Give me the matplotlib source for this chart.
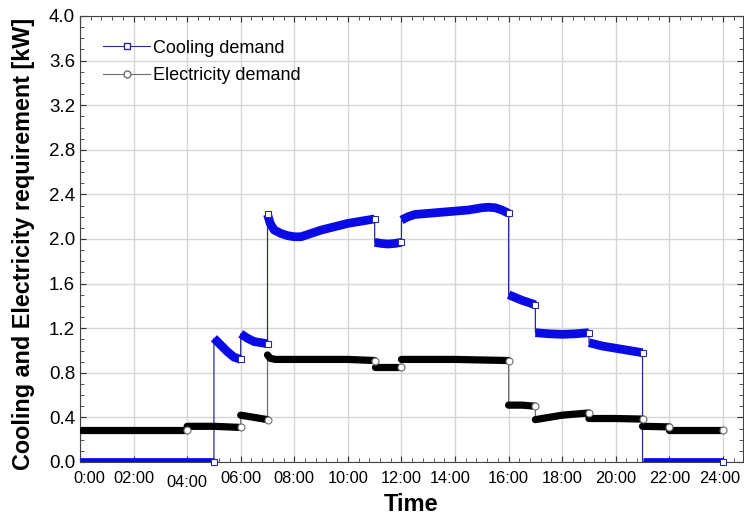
import matplotlib
matplotlib.use("Agg")
import matplotlib.pyplot as plt
from matplotlib.lines import Line2D
from matplotlib.ticker import MultipleLocator
from matplotlib.transforms import offset_copy

plt.rcParams['font.family'] = ['Liberation Sans', 'DejaVu Sans']

# cooling demand, one (hours, kW) pair per segment
cool_segments = [
    ([0.0, 5.0], [0.0, 0.0]),
    ([5.0, 5.25, 5.5, 5.75, 6.0], [1.11, 1.05, 0.99, 0.94, 0.92]),
    ([6.0, 6.25, 6.5, 6.75, 7.0], [1.15, 1.11, 1.08, 1.07, 1.06]),
    ([7.0, 7.1, 7.25, 7.5, 7.75, 8.0, 8.25, 8.5, 9.0, 9.5, 10.0, 10.5, 11.0],
     [2.22, 2.14, 2.08, 2.05, 2.03, 2.02, 2.02, 2.04, 2.08, 2.11, 2.14, 2.16, 2.18]),
    ([11.0, 11.25, 11.5, 11.75, 12.0], [1.97, 1.96, 1.955, 1.96, 1.97]),
    ([12.0, 12.25, 12.5, 13.0, 13.5, 14.0, 14.5, 15.0, 15.25, 15.5, 15.75, 16.0],
     [2.17, 2.20, 2.22, 2.23, 2.24, 2.25, 2.26, 2.28, 2.285, 2.28, 2.26, 2.23]),
    ([16.0, 16.5, 17.0], [1.50, 1.45, 1.41]),
    ([17.0, 17.5, 18.0, 18.5, 19.0], [1.16, 1.15, 1.145, 1.15, 1.16]),
    ([19.0, 19.5, 20.0, 20.5, 21.0], [1.07, 1.04, 1.02, 1.00, 0.98]),
    ([21.0, 24.0], [0.0, 0.0]),
]

# electricity demand
elec_segments = [
    ([0.0, 4.0], [0.29, 0.29]),
    ([4.0, 5.0, 6.0], [0.32, 0.32, 0.31]),
    ([6.0, 6.5, 7.0], [0.42, 0.40, 0.38]),
    ([7.0, 7.1, 7.3, 8.0, 9.0, 10.0, 11.0], [0.96, 0.93, 0.92, 0.92, 0.92, 0.92, 0.91]),
    ([11.0, 11.5, 12.0], [0.85, 0.85, 0.85]),
    ([12.0, 14.0, 16.0], [0.92, 0.92, 0.91]),
    ([16.0, 16.5, 17.0], [0.51, 0.51, 0.50]),
    ([17.0, 17.5, 18.0, 18.5, 19.0], [0.38, 0.40, 0.42, 0.43, 0.44]),
    ([19.0, 20.0, 21.0], [0.39, 0.39, 0.385]),
    ([21.0, 22.0], [0.32, 0.315]),
    ([22.0, 24.0], [0.29, 0.29]),
]

hour_ticks = list(range(0, 25, 2))
hour_labels = ['0:00', '02:00', '04:00', '06:00', '08:00', '10:00', '12:00',
               '14:00', '16:00', '18:00', '20:00', '22:00', '24:00']

cool_band = '#0a0ae6'
cool_thin = '#2b2b8f'
elec_band = '#000000'
elec_thin = '#6e6e6e'

fig = plt.figure(figsize=(7.44, 5.22), dpi=100)
ax = fig.add_axes([80 / 744, 60 / 522, 663 / 744, 446 / 522])


def draw_series(segments, band_color, thin_color, band_lw, marker, cap, extra_start=()):
    # thin connecting line through all segments (gives the vertical jumps)
    all_t = [t for seg in segments for t in seg[0]]
    all_v = [v for seg in segments for v in seg[1]]
    ax.plot(all_t, all_v, color=thin_color, lw=0.9, zorder=3)
    for i, (t, v) in enumerate(segments):
        ax.plot(t, v, color=band_color, lw=band_lw, solid_capstyle=cap, zorder=4)
        ax.plot(t[-1], v[-1], marker=marker, ms=5, mfc='white', mec=thin_color,
                mew=0.8, zorder=6, clip_on=False, ls='none')
        if i in extra_start:
            ax.plot(t[0], v[0], marker=marker, ms=5, mfc='white', mec=thin_color,
                    mew=0.8, zorder=6, ls='none')


draw_series(cool_segments, cool_band, cool_thin, 6.3, 's', 'butt', extra_start=(3,))
draw_series(elec_segments, elec_band, elec_thin, 5.2, 'o', 'round')

ax.set_xlim(0, 24.75)
ax.set_ylim(0, 4.0)
ax.set_xticks(hour_ticks)
ax.set_xticklabels(hour_labels)
ax.xaxis.set_minor_locator(MultipleLocator(0.4))
ax.yaxis.set_major_locator(MultipleLocator(0.4))
ax.yaxis.set_minor_locator(MultipleLocator(0.1))
ax.yaxis.set_major_formatter(matplotlib.ticker.FormatStrFormatter('%.1f'))

ax.grid(True, which='major', color='#d6d6d6', lw=1.0, zorder=0)
ax.set_axisbelow(True)

ax.tick_params(which='both', direction='in', top=True, right=True, color='#333333')
ax.tick_params(which='major', length=4, width=0.8)
ax.tick_params(which='minor', length=3, width=0.6)
ax.tick_params(axis='x', labelsize=11.8, pad=6.5)
ax.tick_params(axis='y', labelsize=13.5, pad=3.5)
for s in ax.spines.values():
    s.set_color('#444444')
    s.set_linewidth(0.8)

# tick label nudges seen in the original
ticks = ax.xaxis.get_major_ticks()
for idx, dx, dy in [(0, 9, 0), (2, 0, -4), (7, -5, 0), (12, -3, 0)]:
    lbl = ticks[idx].label1
    lbl.set_transform(offset_copy(lbl.get_transform(), fig=fig, x=dx, y=dy, units='dots'))

ax.set_xlabel('Time', fontsize=17, fontweight='bold')
ax.xaxis.set_label_coords(0.5, -0.0706)
ax.set_ylabel('Cooling and Electricity requirement [kW]', fontsize=16.8, fontweight='bold')
ax.yaxis.set_label_coords(-0.068, 0.488)

handles = [
    Line2D([], [], color=cool_thin, lw=0.8, marker='s', ms=5, mfc='white', mec=cool_thin),
    Line2D([], [], color=elec_thin, lw=0.8, marker='o', ms=5, mfc='white', mec=elec_thin),
]
ax.legend(handles, ['Cooling demand', 'Electricity demand'], loc='upper left',
          bbox_to_anchor=(0.035, 0.947), borderaxespad=0, borderpad=0, frameon=False,
          fontsize=13, handlelength=2.6, handletextpad=0.15, labelspacing=0.58)

fig.savefig('out.png', dpi=100)
